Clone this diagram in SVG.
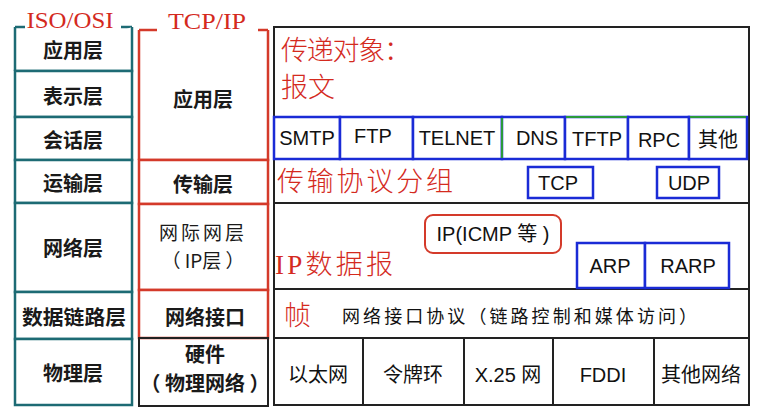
<svg xmlns="http://www.w3.org/2000/svg" width="766" height="418" viewBox="0 0 766 418">
<style>
.osi{fill:#fff;stroke:#1d6b74;stroke-width:2.5}
.tcp{fill:#fff;stroke:#d43a2a;stroke-width:2.5}
.blk{fill:none;stroke:#222;stroke-width:2}
.pb{fill:#fff;stroke:#1a2bd6;stroke-width:2.5}
.lt{font-family:"Noto Sans CJK SC","Liberation Sans",sans-serif;font-size:20px;font-weight:bold;fill:#1a1a1a;text-anchor:middle;dominant-baseline:central}
.pt{font-family:"Liberation Sans","Noto Sans CJK SC",sans-serif;font-size:20px;fill:#111;text-anchor:middle;dominant-baseline:central}
.rt{font-family:"Liberation Serif","Noto Sans CJK SC",serif;font-size:27px;font-weight:300;fill:#d42a1e}
.hd{font-family:"Liberation Serif",serif;font-size:23px;fill:#d42a1e;text-anchor:middle}
</style>
<rect width="766" height="418" fill="#fff"/>
<g id="osi-header">
<line x1="15" y1="27" x2="25" y2="27" stroke="#1d6b74" stroke-width="2.5"/>
<line x1="121" y1="27" x2="132" y2="27" stroke="#1d6b74" stroke-width="2.5"/>
<text class="hd" x="70" y="28" textLength="87" lengthAdjust="spacingAndGlyphs">ISO/OSI</text>
</g>
<g id="osi-app"><path class="osi" d="M15,71 V27 M132,27 V71 H15" fill="none"/><text class="lt" x="73" y="49">应用层</text></g>
<g id="osi-pres"><rect class="osi" x="15" y="71" width="117" height="46"/><text class="lt" x="73" y="95">表示层</text></g>
<g id="osi-sess"><rect class="osi" x="15" y="117" width="117" height="43"/><text class="lt" x="73" y="139">会话层</text></g>
<g id="osi-trans"><rect class="osi" x="15" y="160" width="117" height="43"/><text class="lt" x="73" y="182">运输层</text></g>
<g id="osi-net"><rect class="osi" x="15" y="203" width="117" height="89"/><text class="lt" x="73" y="247">网络层</text></g>
<g id="osi-link"><rect class="osi" x="15" y="292" width="117" height="47"/><text class="lt" x="74" y="316" textLength="104" lengthAdjust="spacingAndGlyphs">数据链路层</text></g>
<g id="osi-phys"><rect class="osi" x="15" y="339" width="117" height="66"/><text class="lt" x="73" y="372">物理层</text></g>

<g id="tcp-header">
<line x1="139" y1="30" x2="157" y2="30" stroke="#d43a2a" stroke-width="2.5"/>
<line x1="258" y1="30" x2="268" y2="30" stroke="#d43a2a" stroke-width="2.5"/>
<text class="hd" x="207" y="29" textLength="78" lengthAdjust="spacingAndGlyphs">TCP/IP</text>
</g>
<g id="tcp-app"><path class="tcp" d="M139,160 V30 M268,30 V160 H139" fill="none"/><text class="lt" x="203" y="98">应用层</text></g>
<g id="tcp-trans"><rect class="tcp" x="139" y="160" width="129" height="44"/><text class="lt" x="203" y="183">传输层</text></g>
<g id="tcp-ip"><rect class="tcp" x="139" y="204" width="129" height="86"/><text class="lt" x="203" y="231" style="font-weight:normal;font-size:19px;letter-spacing:3px">网际网层</text><text class="lt" x="203" y="259" style="font-weight:normal;font-size:19px">（ IP层 ）</text></g>
<g id="tcp-if"><rect class="tcp" x="139" y="290" width="129" height="48"/><text class="lt" x="205" y="316">网络接口</text></g>
<g id="tcp-hw"><rect class="blk" x="139" y="338" width="129" height="68"/><text class="lt" x="205" y="353">硬件</text><text class="lt" x="205" y="382">（ 物理网络 ）</text></g>

<g id="right-frame">
<rect class="blk" x="274" y="27" width="475" height="378"/>
<line class="blk" x1="274" y1="159" x2="749" y2="159"/>
<line class="blk" x1="274" y1="203" x2="749" y2="203"/>
<line class="blk" x1="274" y1="289" x2="749" y2="289"/>
<line class="blk" x1="274" y1="338" x2="749" y2="338"/>
</g>
<g id="app-object"><text class="rt" x="281" y="60" textLength="130" lengthAdjust="spacing">传递对象：</text><text class="rt" x="281" y="97">报文</text></g>
<g id="app-protocols">
<rect class="pb" x="274" y="117" width="66" height="42"/><text class="pt" x="307" y="138">SMTP</text>
<rect class="pb" x="340" y="117" width="73" height="42"/><text class="pt" x="373" y="136">FTP</text>
<rect class="pb" x="413" y="117" width="89" height="42"/><text class="pt" x="457" y="138">TELNET</text>
<rect class="pb" x="502" y="117" width="63" height="42"/><text class="pt" x="537" y="138">DNS</text>
<rect class="pb" x="565" y="117" width="63" height="42"/><text class="pt" x="597" y="139">TFTP</text>
<rect class="pb" x="628" y="117" width="61" height="42"/><text class="pt" x="659" y="140">RPC</text>
<rect class="pb" x="689" y="117" width="58" height="42"/><text class="pt" x="718" y="140">其他</text>
<line x1="502" y1="118" x2="502" y2="158" stroke="#2a9a3a" stroke-width="2"/>
<line x1="566" y1="117" x2="627" y2="117" stroke="#2a9a3a" stroke-width="2"/>
<line x1="690" y1="117" x2="746" y2="117" stroke="#2a9a3a" stroke-width="2"/>
</g>
<g id="transport">
<text class="rt" x="277" y="191" textLength="176" lengthAdjust="spacing">传输协议分组</text>
<rect class="pb" x="528" y="167" width="65" height="31"/><text class="pt" x="558" y="183">TCP</text>
<rect class="pb" x="657" y="167" width="62" height="31"/><text class="pt" x="689" y="183">UDP</text>
</g>
<g id="internet">
<text class="rt" x="275" y="274" textLength="118" lengthAdjust="spacing">IP数据报</text>
<rect x="425" y="215" width="136" height="38" rx="8" fill="#fff" stroke="#d43a2a" stroke-width="2"/><text class="pt" x="493" y="234">IP(ICMP 等 )</text>
<rect class="pb" x="577" y="243" width="68" height="45"/><text class="pt" x="610" y="266">ARP</text>
<rect class="pb" x="645" y="243" width="84" height="45"/><text class="pt" x="688" y="266">RARP</text>
</g>
<g id="link">
<text class="rt" x="284" y="325">帧</text>
<text class="pt" x="342" y="315" style="font-family:'Noto Sans CJK SC',sans-serif;font-size:18px;text-anchor:start" textLength="355" lengthAdjust="spacing">网络接口协议（链路控制和媒体访问）</text>
</g>
<g id="physical">
<line class="blk" x1="363" y1="338" x2="363" y2="405"/>
<line class="blk" x1="464" y1="338" x2="464" y2="405"/>
<line class="blk" x1="553" y1="338" x2="553" y2="405"/>
<line class="blk" x1="654" y1="338" x2="654" y2="405"/>
<text class="pt" x="318" y="375">以太网</text>
<text class="pt" x="413" y="375">令牌环</text>
<text class="pt" x="508" y="375">X.25 网</text>
<text class="pt" x="603" y="375">FDDI</text>
<text class="pt" x="701" y="375">其他网络</text>
</g>
<g id="connectors"/>
</svg>
